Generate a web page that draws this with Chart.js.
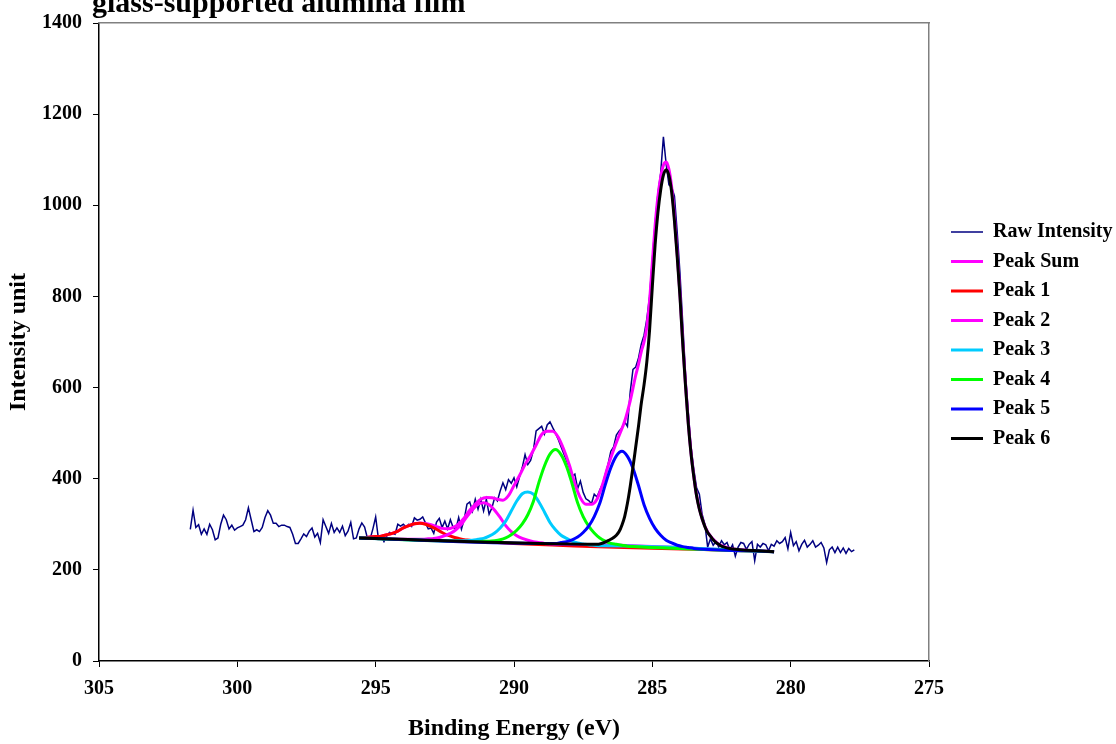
<!DOCTYPE html>
<html>
<head>
<meta charset="utf-8">
<style>
  html, body { margin: 0; padding: 0; background: #ffffff; }
  canvas { display: block; }
</style>
<script src="https://cdn.jsdelivr.net/npm/chart.js@4.4.1/dist/chart.umd.min.js"></script>
</head>
<body>
<canvas id="c" width="1116" height="744"></canvas>
<script>
const chartTitle = 'glass-supported alumina film';
const xTitle = 'Binding Energy (eV)';
const yTitle = 'Intensity unit';
const seriesNames = ['Raw Intensity', 'Peak Sum', 'Peak 1', 'Peak 2', 'Peak 3', 'Peak 4', 'Peak 5', 'Peak 6'];
const xTicks = [305, 300, 295, 290, 285, 280, 275];
const yTicks = [0, 200, 400, 600, 800, 1000, 1200, 1400];

const rawE = [
301.7,301.6,301.5,301.4,301.3,301.2,301.1,301.0,300.9,300.8,
300.7,300.6,300.5,300.4,300.3,300.2,300.1,300.0,299.9,299.8,
299.7,299.6,299.5,299.4,299.3,299.2,299.1,299.0,298.9,298.8,
298.7,298.6,298.5,298.4,298.3,298.2,298.1,298.0,297.9,297.8,
297.7,297.6,297.5,297.4,297.3,297.2,297.1,297.0,296.9,296.8,
296.7,296.6,296.5,296.4,296.3,296.2,296.1,296.0,295.9,295.8,
295.7,295.6,295.5,295.4,295.3,295.2,295.1,295.0,294.9,294.8,
294.7,294.6,294.5,294.4,294.3,294.2,294.1,294.0,293.9,293.8,
293.7,293.6,293.5,293.4,293.3,293.2,293.1,293.0,292.9,292.8,
292.7,292.6,292.5,292.4,292.3,292.2,292.1,292.0,291.9,291.8,
291.7,291.6,291.5,291.4,291.3,291.2,291.1,291.0,290.9,290.8,
290.7,290.6,290.5,290.4,290.3,290.2,290.1,290.0,289.9,289.8,
289.7,289.6,289.5,289.4,289.3,289.2,289.1,289.0,288.9,288.8,
288.7,288.6,288.5,288.4,288.3,288.2,288.1,288.0,287.9,287.8,
287.7,287.6,287.5,287.4,287.3,287.2,287.1,287.0,286.9,286.8,
286.7,286.6,286.5,286.4,286.3,286.2,286.1,286.0,285.9,285.8,
285.7,285.6,285.5,285.4,285.3,285.2,285.1,285.0,284.9,284.8,
284.7,284.6,284.5,284.4,284.3,284.2,284.1,284.0,283.9,283.8,
283.7,283.6,283.5,283.4,283.3,283.2,283.1,283.0,282.9,282.8,
282.7,282.6,282.5,282.4,282.3,282.2,282.1,282.0,281.9,281.8,
281.7,281.6,281.5,281.4,281.3,281.2,281.1,281.0,280.9,280.8,
280.7,280.6,280.5,280.4,280.3,280.2,280.1,280.0,279.9,279.8,
279.7,279.6,279.5,279.4,279.3,279.2,279.1,279.0,278.9,278.8,
278.7,278.6,278.5,278.4,278.3,278.2,278.1,278.0,277.9,277.8,
277.7];
const rawI = [
289,331,293,299,278,290,278,300,288,266,
270,300,320,310,290,298,287,292,295,298,
310,336,310,284,288,284,293,315,330,320,
302,302,295,298,298,295,293,278,258,258,
268,279,273,285,292,272,280,260,310,295,
280,302,282,292,282,296,275,285,304,268,
270,290,303,294,270,268,290,316,268,274,
262,274,282,280,278,300,296,300,294,300,
295,314,309,311,316,303,290,292,280,305,
313,293,307,290,310,293,290,315,289,311,
344,349,329,355,333,355,329,355,322,336,
358,351,373,391,376,398,390,402,382,404,
425,453,431,440,462,505,510,515,498,518,
525,512,500,486,470,455,440,425,405,410,
378,395,370,356,352,345,366,360,375,388,
410,432,460,470,496,505,511,525,515,590,
640,645,665,695,715,750,800,880,960,1025,
1070,1150,1090,1045,1040,1020,940,850,740,630,
545,470,420,380,366,322,300,250,268,254,
262,250,264,255,260,244,255,230,250,260,
258,245,256,262,220,256,250,258,255,242,
256,252,264,258,262,271,246,282,253,262,
242,256,265,250,256,264,250,254,260,248,
216,244,250,238,250,238,248,236,247,240,
244];

const sumE = [295.6,295.4,295.2,295.0,294.8,294.6,294.4,294.2,294.0,293.8,
293.6,293.4,293.2,293.0,292.8,292.6,292.4,292.2,292.0,291.8,
291.6,291.4,291.2,291.0,290.8,290.6,290.4,290.2,290.0,289.8,
289.6,289.4,289.2,289.0,288.8,288.6,288.4,288.2,288.0,287.8,
287.6,287.4,287.2,287.0,286.8,286.6,286.4,286.2,286.0,285.8,
285.6,
285.5,285.4,285.3,285.2,285.1,285.0,284.9,284.8,284.7,284.6,
284.5,284.4,284.3,284.2,284.1,284.0,283.9,283.8,283.7,283.6,
283.5,283.4,
283.2,283.0,282.8,282.6,282.4,282.2,282.0,281.8,281.6,281.4,281.2,281.0,
280.6];
const sumI = [271,271,272,273,274,277,280,285,292,297,
301,303,302,299,295,291,290,293,301,314,
331,344,355,359,358,355,353,363,385,407,
431,451,474,497,504,504,491,464,430,389,
358,344,344,355,387,428,463,495,526,571,
627,
651,679,700,733,790,874,955,1018,1061,1088,
1095,1079,1039,974,893,804,699,607,523,456,
405,363,
312,283,267,256,251,247,245,244,243,242,242,241,
240];

const p1E = [295.6,295.4,295.2,295.0,294.8,294.6,294.4,294.2,294.0,293.8,293.6,293.4,293.2,293.0,292.8,292.6,292.4,292.2,292.0,291.8,291.6,291.4,291.2,291.0,290.8,290.6,280.6];
const p1I = [271,271,272,273,274,277,280,285,292,297,301,302,300,295,289,282,276,272,269,266,265,263,262,261,261,260,240];

const p2E = [295.6,293.9,293.7,293.5,293.3,293.1,292.9,292.7,292.5,292.3,292.1,291.9,291.7,291.5,291.3,291.1,290.9,290.7,290.5,290.3,290.1,289.9,289.7,289.5,289.3,289.1,288.9,288.7,288.5,288.3,280.6];
const p2I = [270,267,267,267,267,268,269,271,275,280,288,300,317,332,344,347,343,331,315,297,284,275,269,265,262,260,258,257,256,256,240];

const p3E = [295.6,292.3,292.1,291.9,291.7,291.5,291.3,291.1,290.9,290.7,290.5,290.3,290.1,289.9,289.7,289.5,289.3,289.1,288.9,288.7,288.5,288.3,288.1,287.9,287.7,287.5,287.3,287.1,286.9,286.7,280.6];
const p3I = [270,264,264,264,264,265,267,269,274,281,292,307,329,351,367,371,366,349,327,304,288,276,269,263,259,257,255,254,253,253,240];

const p4E = [295.6,291.3,291.1,290.9,290.7,290.5,290.3,290.1,289.9,289.7,289.5,289.3,289.1,288.9,288.7,288.5,288.3,288.1,287.9,287.7,287.5,287.3,287.1,286.9,286.7,286.5,286.3,286.1,285.9,285.7,280.6];
const p4I = [270,262,263,263,264,266,270,277,287,301,321,350,392,428,454,464,453,427,389,347,317,296,281,270,263,258,256,254,252,251,240];

const p5E = [295.6,288.9,288.7,288.5,288.3,288.1,287.9,287.7,287.5,287.3,287.1,286.9,286.7,286.5,286.3,286.1,285.9,285.7,285.5,285.3,285.1,284.9,284.7,284.5,284.3,284.1,283.9,283.7,283.5,283.3,280.6];
const p5I = [270,258,258,258,260,262,266,272,282,296,317,346,387,424,450,460,449,423,385,343,313,291,276,265,259,254,251,249,247,246,240];

const p6E = [295.6,287.0,286.6,286.5,286.4,286.3,286.2,286.1,286.0,285.9,285.8,285.7,285.6,285.5,285.4,285.3,285.2,285.1,285.0,284.9,284.8,284.7,284.6,284.5,284.4,284.3,284.2,284.1,284.0,283.9,283.8,283.7,283.6,283.5,283.4,283.3,283.2,283.1,283.0,282.9,282.8,282.7,282.6,282.5,282.4,282.2,282.0,280.6];
const p6I = [270,256,264,267,271,276,284,298,317,346,383,425,470,515,565,606,656,726,822,913,983,1033,1066,1078,1065,1028,965,886,799,695,603,520,454,404,362,333,312,295,282,274,266,260,256,252,250,247,245,240];

const seriesColors = ['#000080', '#FF00FF', '#FF0000', '#FF00FF', '#00CCFF', '#00FF00', '#0000FF', '#000000'];

const FONT = "'Liberation Serif', 'Times New Roman', Times, serif";
const pts = (E, I) => E.map((e, k) => ({ x: e, y: I[k] }));

const seriesData = [
  pts(rawE, rawI), pts(sumE, sumI), pts(p1E, p1I), pts(p2E, p2I),
  pts(p3E, p3I), pts(p4E, p4I), pts(p5E, p5I), pts(p6E, p6I)
];

const datasets = seriesNames.map((name, k) => ({
  label: name,
  data: seriesData[k],
  borderColor: seriesColors[k],
  backgroundColor: seriesColors[k],
  borderWidth: k === 0 ? 1.5 : 3,
  pointRadius: 0,
  fill: false,
  tension: 0,
  cubicInterpolationMode: k === 0 ? 'default' : 'monotone',
  order: seriesNames.length - k,
  xAxisID: 'x',
  yAxisID: 'y'
}));

const cornerTitle = {
  id: 'cornerTitle',
  afterDraw(chart) {
    const c = chart.ctx;
    c.save();
    c.font = 'bold 30px ' + FONT;
    c.fillStyle = '#000000';
    c.textAlign = 'left';
    c.textBaseline = 'alphabetic';
    c.fillText(chartTitle, 92, 12);
    c.restore();
  }
};

new Chart(document.getElementById('c'), {
  type: 'line',
  data: { datasets },
  plugins: [cornerTitle],
  options: {
    responsive: false,
    animation: false,
    devicePixelRatio: 1,
    layout: { padding: { top: 19, left: 0, right: 0, bottom: 0 } },
    plugins: {
      tooltip: { enabled: false },
      title: { display: false },
      legend: {
        position: 'right',
        align: 'start',
        maxWidth: 174.5,
        title: { display: true, text: ' ', font: { size: 1 }, padding: { top: 192.3, bottom: 0 } },
        labels: {
          usePointStyle: true,
          pointStyle: 'line',
          pointStyleWidth: 32,
          padding: 9.5,
          color: '#000000',
          font: { family: FONT, size: 20, weight: 'bold' },
          sort: (a, b) => a.datasetIndex - b.datasetIndex
        }
      }
    },
    scales: {
      x: {
        type: 'linear',
        position: 'bottom',
        min: 275, max: 305,
        reverse: true,
        afterBuildTicks: s => { s.ticks = xTicks.map(v => ({ value: v })); },
        afterFit: s => { s.height = 83; },
        ticks: { color: '#000000', font: { family: FONT, size: 20, weight: 'bold' }, padding: 10, autoSkip: false, maxRotation: 0, callback: v => String(v) },
        grid: { drawOnChartArea: false, drawTicks: true, tickLength: 6, tickColor: '#000000', tickWidth: 1 },
        border: { display: true, color: '#000000', width: 1.5 },
        title: { display: true, text: xTitle, color: '#000000', font: { family: FONT, size: 24, weight: 'bold' }, padding: { top: 0, bottom: 1 } }
      },
      y: {
        type: 'linear',
        position: 'left',
        min: 0, max: 1400,
        afterBuildTicks: s => { s.ticks = yTicks.map(v => ({ value: v })); },
        afterFit: s => { s.width = 99; },
        ticks: { color: '#000000', font: { family: FONT, size: 20, weight: 'bold' }, padding: 11, callback: v => String(v) },
        grid: { drawOnChartArea: false, drawTicks: true, tickLength: 6, tickColor: '#000000', tickWidth: 1 },
        border: { display: true, color: '#000000', width: 1.5 },
        title: { display: true, text: yTitle, color: '#000000', font: { family: FONT, size: 24, weight: 'bold' }, padding: { top: 4, bottom: 0 } }
      },
      x2: {
        type: 'linear',
        position: 'top',
        min: 275, max: 305,
        reverse: true,
        afterFit: s => { s.height = 0; },
        ticks: { display: false },
        grid: { display: false, drawTicks: false },
        border: { display: true, color: '#808080', width: 1.5 }
      },
      y2: {
        type: 'linear',
        position: 'right',
        min: 0, max: 1400,
        afterFit: s => { s.width = 12.5; },
        ticks: { display: false },
        grid: { display: false, drawTicks: false },
        border: { display: true, color: '#808080', width: 1.5 }
      }
    }
  }
});
</script>
</body>
</html>
